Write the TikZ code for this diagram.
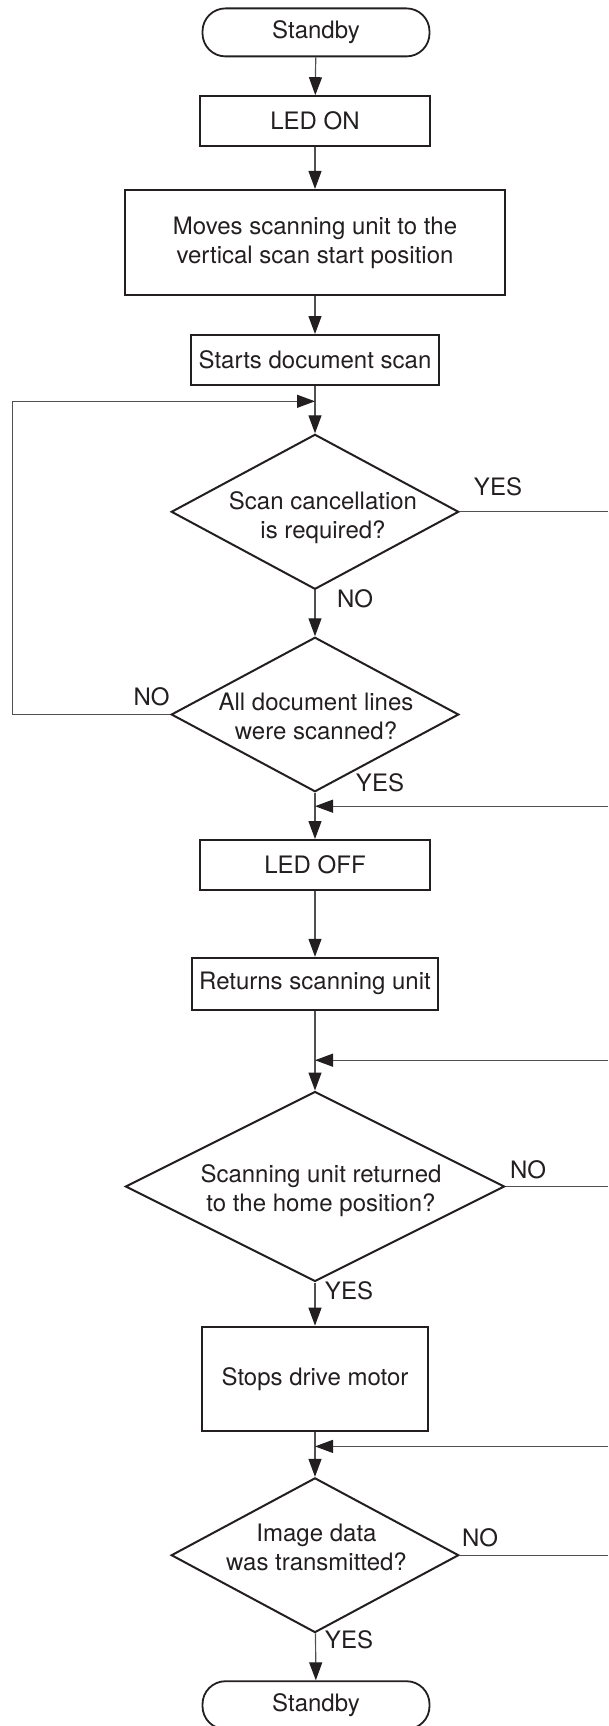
\documentclass[tikz,border=0pt]{standalone}
\usepackage{fontspec}
\setmainfont{TeX Gyre Heros}
\usetikzlibrary{arrows.meta,shapes.geometric}
\definecolor{ink}{HTML}{231F20}
\definecolor{wire}{HTML}{505050}
\begin{document}
\begin{tikzpicture}[x=1pt,y=-1pt,
  every node/.style={font=\fontsize{24}{29}\selectfont, text=ink},
  procbox/.style={draw=ink, line width=2pt, rectangle, inner sep=2pt, align=center},
  termbox/.style={draw=ink, line width=1.8pt, rectangle, rounded corners=23pt,
    minimum width=227pt, minimum height=48pt, inner sep=2pt},
  decision/.style={draw=ink, line width=2pt, diamond, inner sep=0pt},
  wireline/.style={draw=wire, line width=1.2pt},
  flow/.style={wireline, -{Triangle[length=18pt,width=13pt,color=ink,fill=ink]}},
  answer/.style={inner sep=0pt},
  question/.style={align=center, inner sep=0pt}]

\useasboundingbox (0,0) rectangle (608,1726);

% ---- main column ----
\node[termbox] (top) at (316,32.4) {Standby};
\node[procbox, minimum width=229.5pt, minimum height=50pt] (ledon) at (315,121.2) {LED ON};
\node[procbox, minimum width=380pt, minimum height=105.5pt] (moves) at (315,242.7)
  {Moves scanning unit to the\\vertical scan start position};
\node[procbox, minimum width=248pt, minimum height=49.6pt] (starts) at (315,359.8) {Starts document scan};

\node[decision, minimum width=287.5pt, minimum height=155pt] (cancel) at (315,511.8) {};
\node[question] (canceltext) at (323,518) {Scan cancellation\\is required?};

\node[decision, minimum width=287.5pt, minimum height=154.5pt] (scanned) at (315,714.5) {};
\node[question] (scannedtext) at (316,716) {All document lines\\were scanned?};

\node[procbox, minimum width=229.6pt, minimum height=50.4pt] (ledoff) at (315,865.2) {LED OFF};
\node[procbox, minimum width=246.3pt, minimum height=52pt] (returns) at (315,983.8) {Returns scanning unit};

\node[decision, minimum width=379pt, minimum height=190pt] (homecheck) at (315,1186.5) {};
\node[question] (homechecktext) at (321,1191) {Scanning unit returned\\to the home position?};

\node[procbox, minimum width=225.3pt, minimum height=104.7pt] (stops) at (315,1379) {Stops drive motor};

\node[decision, minimum width=287.5pt, minimum height=154.7pt] (sent) at (315,1555.2) {};
\node[question] (senttext) at (316.5,1547) {Image data\\was transmitted?};

% the closing terminal runs off the lower edge of the sheet
\node[termbox] (bottom) at (316,1705.2) {Standby};

% ---- branch labels ----
\node[answer] (cancelyes) at (498,486.6) {YES};
\node[answer] (cancelno) at (355,598.5) {NO};
\node[answer] (scannedno) at (151.6,696.5) {NO};
\node[answer] (scannedyes) at (380,783) {YES};
\node[answer] (homeno) at (528,1170) {NO};
\node[answer] (homeyes) at (349,1290.5) {YES};
\node[answer] (sentno) at (480,1538) {NO};
\node[answer] (sentyes) at (349,1640) {YES};

% ---- junction points and free ends ----
\coordinate (loopin) at (315,401.3);
\coordinate (loopcorner) at (12.8,714.5);
\coordinate (cancelout) at (608,511.8);
\coordinate (resume1) at (608,806.2);
\coordinate (join1) at (315,806.2);
\coordinate (resume2) at (608,1060.2);
\coordinate (join2) at (315,1060.2);
\coordinate (homeout) at (608,1186.5);
\coordinate (resume3) at (608,1446.4);
\coordinate (join3) at (315,1446.4);
\coordinate (sentout) at (608,1555.2);

% ---- connectors ----
\draw[flow] (top) -- (ledon);
\draw[flow] (ledon) -- (moves);
\draw[flow] (moves) -- (starts);
\draw[flow] (starts) -- (cancel);
\draw[flow] (scanned.west) -- (loopcorner) |- (loopin);
\draw[wireline] (cancel.east) -- (cancelout);
\draw[flow] (cancel) -- (scanned);
\draw[flow] (scanned) -- (ledoff);
\draw[flow] (resume1) -- (join1);
\draw[flow] (ledoff) -- (returns);
\draw[flow] (returns) -- (homecheck);
\draw[flow] (resume2) -- (join2);
\draw[wireline] (homecheck.east) -- (homeout);
\draw[flow] (homecheck) -- (stops);
\draw[flow] (stops) -- (sent);
\draw[flow] (resume3) -- (join3);
\draw[wireline] (sent.east) -- (sentout);
\draw[flow] (sent) -- (bottom);

\end{tikzpicture}
\end{document}
